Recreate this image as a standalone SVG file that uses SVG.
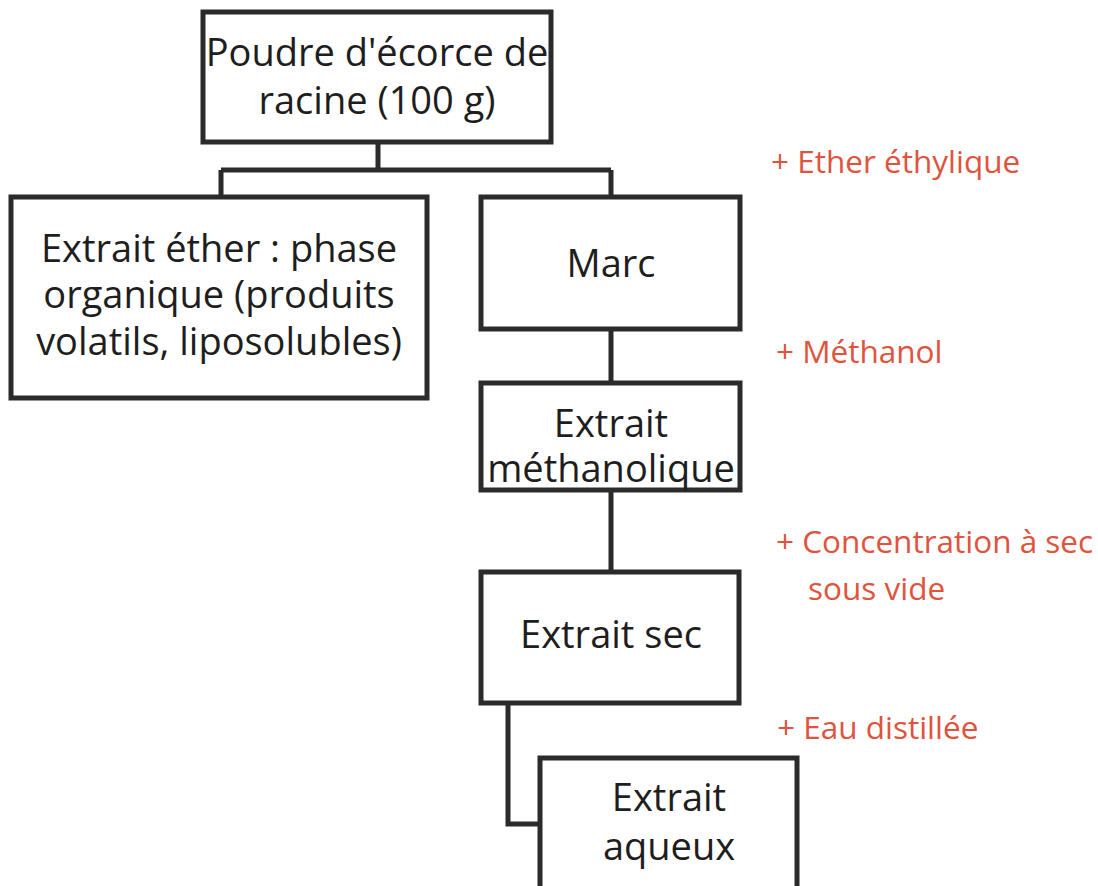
<svg xmlns="http://www.w3.org/2000/svg" width="1098" height="886" viewBox="0 0 1098 886">
<style>
.box{fill:#fff;stroke:#2b2b2b;stroke-width:5}
.t{font-family:"Open Sans","Noto Sans",sans-serif;fill:#1e1e1e;text-anchor:middle;font-size:38px;font-variant-ligatures:none}
.r{font-family:"Open Sans","Noto Sans",sans-serif;fill:#e0533d;font-size:31.5px;font-variant-ligatures:none}
.c{fill:none;stroke:#2b2b2b;stroke-width:5}
</style>
<rect width="1098" height="886" fill="#fff"/>
<g id="connectors">
<path class="c" d="M378 142 V170 M221 170 H611 M221 170 V197 M611 170 V197"/>
<path class="c" d="M611 329 V383"/>
<path class="c" d="M611 490 V572"/>
<path class="c" d="M508 703 V824 H540"/>
</g>
<g id="poudre">
<rect class="box" x="203" y="12" width="348" height="130"/>
<text class="t" x="377" y="66">Poudre d'écorce de</text>
<text class="t" x="377" y="114">racine (100 g)</text>
</g>
<g id="ether">
<rect class="box" x="11" y="197" width="416" height="201"/>
<text class="t" x="219" y="262">Extrait éther : phase</text>
<text class="t" x="219" y="308">organique (produits</text>
<text class="t" x="219" y="355">volatils, liposolubles)</text>
</g>
<g id="marc">
<rect class="box" x="481" y="197" width="259" height="132"/>
<text class="t" x="611" y="277">Marc</text>
</g>
<g id="methanolique">
<rect class="box" x="481" y="383" width="259" height="107"/>
<text class="t" x="611" y="437">Extrait</text>
<text class="t" x="611" y="482">méthanolique</text>
</g>
<g id="sec">
<rect class="box" x="481" y="572" width="258" height="131"/>
<text class="t" x="611" y="648">Extrait sec</text>
</g>
<g id="aqueux">
<rect class="box" x="540" y="758" width="257" height="150"/>
<text class="t" x="669" y="811">Extrait</text>
<text class="t" x="669" y="860">aqueux</text>
</g>
<g id="labels">
<text class="r" x="771" y="173">+ Ether éthylique</text>
<text class="r" x="776" y="363">+ Méthanol</text>
<text class="r" x="776" y="553">+ Concentration à sec</text>
<text class="r" x="808" y="600">sous vide</text>
<text class="r" x="777" y="739">+ Eau distillée</text>
</g>
</svg>
